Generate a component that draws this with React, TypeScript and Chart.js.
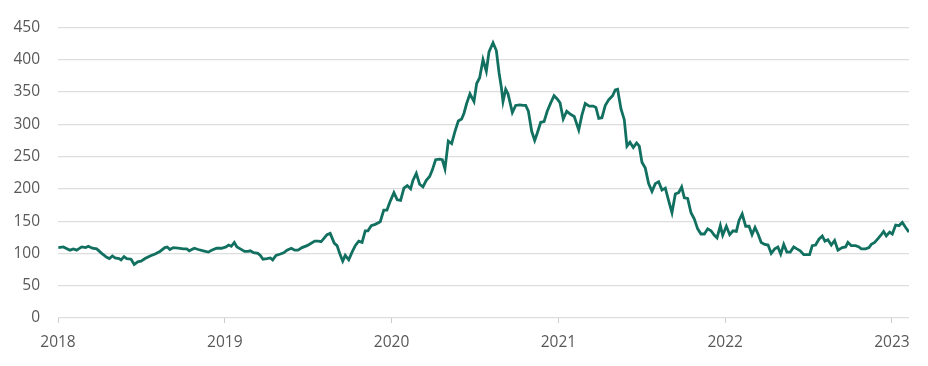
import React, { useEffect, useRef } from "react";
import { Chart, registerables } from "chart.js";

Chart.register(...registerables);

const startYear = 2018;
const yearTicks = [2018, 2019, 2020, 2021, 2022, 2023];
const yTicks = [0, 50, 100, 150, 200, 250, 300, 350, 400, 450];

// time, expressed as years elapsed since 1 Jan 2018
const yearsSince2018 = [
  0.002, 0.032, 0.072, 0.092, 0.112, 0.142, 0.166, 0.182, 0.206, 0.232,
  0.262, 0.292, 0.308, 0.326, 0.342, 0.366, 0.378, 0.396, 0.412, 0.438,
  0.457, 0.478, 0.498, 0.522, 0.552, 0.582, 0.611, 0.641, 0.655, 0.671,
  0.691, 0.721, 0.751, 0.772, 0.787, 0.817, 0.841, 0.871, 0.901, 0.921,
  0.951, 0.981,
  1.007, 1.023, 1.039, 1.057, 1.073, 1.093, 1.119, 1.139, 1.153, 1.173,
  1.199, 1.213, 1.229, 1.253, 1.273, 1.287, 1.307, 1.333, 1.353, 1.373,
  1.399, 1.419, 1.439, 1.463, 1.493, 1.513, 1.539, 1.563, 1.577, 1.593,
  1.613, 1.632, 1.643, 1.656, 1.673, 1.689, 1.707, 1.722, 1.743, 1.763,
  1.782, 1.803, 1.823, 1.842, 1.858, 1.878, 1.902, 1.932, 1.953, 1.972,
  1.992,
  2.014, 2.034, 2.054, 2.074, 2.094, 2.114, 2.128, 2.148, 2.168, 2.188,
  2.208, 2.228, 2.244, 2.264, 2.288, 2.304, 2.32, 2.34, 2.36, 2.38,
  2.4, 2.42, 2.434, 2.45, 2.47, 2.494, 2.51, 2.528, 2.548, 2.568,
  2.584, 2.608, 2.628, 2.644, 2.658, 2.668, 2.684, 2.698, 2.724, 2.744,
  2.768, 2.788, 2.804, 2.82, 2.84, 2.858, 2.873, 2.894, 2.914, 2.933,
  2.954, 2.974, 2.993,
  3.01, 3.029, 3.05, 3.075, 3.095, 3.122, 3.141, 3.161, 3.185, 3.209,
  3.225, 3.242, 3.261, 3.281, 3.302, 3.325, 3.341, 3.355, 3.375, 3.395,
  3.411, 3.429, 3.449, 3.469, 3.485, 3.501, 3.521, 3.541, 3.561, 3.581,
  3.601, 3.621, 3.641, 3.665, 3.681, 3.701, 3.721, 3.739, 3.755, 3.775,
  3.795, 3.815, 3.835, 3.855, 3.875, 3.895, 3.915, 3.935, 3.951, 3.971,
  3.985,
  4.007, 4.027, 4.047, 4.067, 4.083, 4.102, 4.123, 4.143, 4.161, 4.179,
  4.197, 4.216, 4.237, 4.257, 4.276, 4.297, 4.316, 4.333, 4.351, 4.37,
  4.39, 4.411, 4.43, 4.45, 4.471, 4.49, 4.506, 4.522, 4.542, 4.562,
  4.582, 4.598, 4.616, 4.636, 4.656, 4.676, 4.702, 4.722, 4.736, 4.756,
  4.782, 4.802, 4.816, 4.842, 4.862, 4.876, 4.896, 4.916, 4.936, 4.95,
  4.966, 4.986, 5.002, 5.022, 5.042, 5.062, 5.082, 5.102,
];

const values = [
  109, 110, 105, 107, 105, 110, 109, 111, 108, 107,
  100, 94, 92, 96, 93, 92, 90, 95, 92, 91,
  83, 87, 88, 92, 96, 99, 103, 109, 110, 106,
  109, 108, 107, 107, 104, 108, 106, 104, 102, 105,
  108, 108,
  110, 113, 111, 117, 110, 107, 103, 103, 104, 101,
  100, 97, 91, 92, 93, 90, 97, 99, 101, 105,
  108, 105, 105, 109, 112, 115, 119, 119, 118, 123,
  129, 131, 124, 116, 112, 100, 88, 97, 90, 102,
  112, 119, 117, 135, 135, 143, 145, 149, 167, 167,
  181,
  194, 183, 182, 201, 205, 200, 213, 224, 207, 203,
  213, 219, 229, 245, 246, 245, 231, 274, 270, 289,
  305, 308, 317, 332, 347, 335, 363, 372, 400, 382,
  412, 426, 414, 380, 357, 335, 354, 347, 318, 329,
  330, 329, 329, 320, 289, 275, 286, 303, 304, 320,
  333, 344, 339,
  333, 308, 320, 315, 312, 291, 314, 332, 328, 328,
  326, 309, 310, 329, 338, 344, 353, 354, 324, 307,
  266, 272, 264, 271, 266, 241, 232, 208, 196, 208,
  211, 198, 201, 178, 163, 192, 194, 203, 186, 185,
  163, 153, 138, 130, 130, 138, 135, 128, 124, 143,
  128,
  142, 129, 135, 134, 151, 161, 142, 142, 129, 140,
  130, 117, 114, 113, 100, 107, 110, 99, 114, 102,
  102, 110, 107, 104, 98, 98, 98, 112, 113, 122,
  127, 119, 121, 113, 120, 105, 109, 110, 117, 112,
  112, 110, 107, 107, 109, 114, 117, 123, 129, 134,
  127, 133, 130, 144, 143, 148, 140, 133,
];

const LINE_COLOR = "#11705f";
const GRID_COLOR = "#dddddd";
const TEXT_COLOR = "#585858";
const FONT = { family: "'Open Sans', sans-serif", size: 15.5 };

export default function App() {
  const canvasRef = useRef<HTMLCanvasElement | null>(null);

  useEffect(() => {
    document.body.style.margin = "0";
    const canvas = canvasRef.current;
    if (!canvas) return;
    const points = yearsSince2018.map((t, i) => ({ x: startYear + t, y: values[i] }));
    const chart = new Chart(canvas, {
      type: "line",
      data: {
        datasets: [
          {
            data: points,
            borderColor: LINE_COLOR,
            borderWidth: 2.8,
            pointRadius: 0,
            tension: 0,
            fill: false,
          },
        ],
      },
      options: {
        animation: false,
        responsive: false,
        maintainAspectRatio: false,
        parsing: false,
        layout: { padding: { top: 20, right: 19, left: 0, bottom: 0 } },
        plugins: { legend: { display: false }, tooltip: { enabled: false } },
        scales: {
          x: {
            type: "linear",
            min: startYear,
            max: startYear + yearsSince2018[yearsSince2018.length - 1],
            afterBuildTicks: (scale: any) => {
              scale.ticks = yearTicks.map((v) => ({ value: v }));
            },
            afterFit: (scale: any) => {
              scale.height = 48;
            },
            ticks: {
              color: TEXT_COLOR,
              font: FONT,
              padding: 10,
              maxRotation: 0,
              autoSkip: false,
              callback: (v: any) => String(v),
            },
            grid: {
              drawOnChartArea: false,
              drawTicks: true,
              tickLength: 5,
              color: "#cccccc",
            },
            border: { display: false },
          },
          y: {
            min: 0,
            max: 450,
            afterBuildTicks: (scale: any) => {
              scale.ticks = yTicks.map((v) => ({ value: v }));
            },
            afterFit: (scale: any) => {
              scale.width = 58;
            },
            ticks: {
              color: TEXT_COLOR,
              font: FONT,
              padding: 18,
            },
            grid: {
              color: GRID_COLOR,
              lineWidth: 1.2,
              drawTicks: false,
            },
            border: { display: false },
          },
        },
      },
    });
    return () => chart.destroy();
  }, []);

  return (
    <div style={{ width: 928, height: 366, background: "#fff" }}>
      <canvas ref={canvasRef} width={928} height={366} style={{ display: "block" }} />
    </div>
  );
}
